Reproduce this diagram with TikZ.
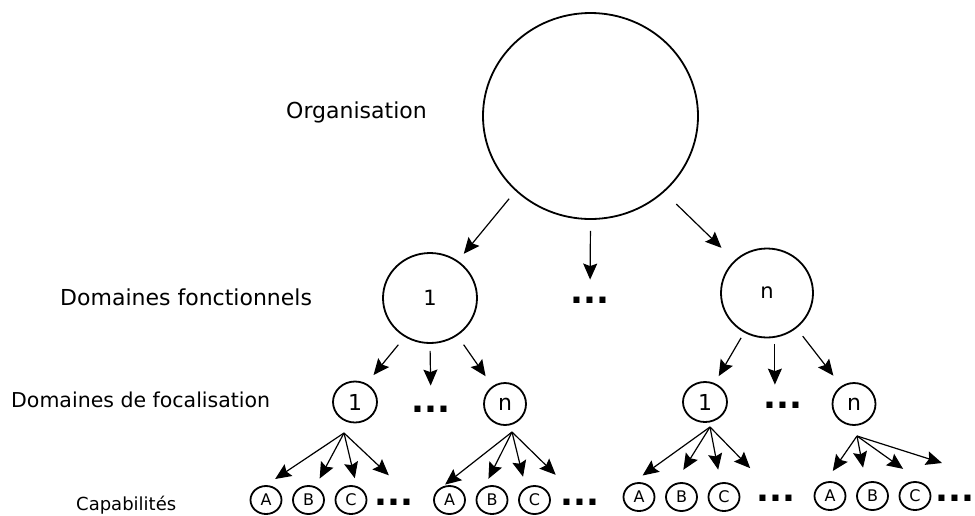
\documentclass[tikz,border=0pt]{standalone}
\usepackage{fontspec}
\setmainfont{DejaVu Sans}
\usetikzlibrary{arrows.meta,shapes.geometric}

\begin{document}
\begin{tikzpicture}[x=1pt, y=-1pt,
        rond/.style={draw, ellipse, line width=1.8pt, inner sep=0pt},
        feuille/.style={rond, minimum width=31pt, minimum height=28pt, font=\fontsize{16}{16}\selectfont},
        points/.style={inner sep=0pt, font=\fontsize{34}{34}\selectfont\bfseries},
        fleche/.style={line width=1.2pt, -{Stealth[length=16pt,width=14pt,inset=2.5pt]}},
        titre/.style={anchor=base west, inner sep=0pt}]
        \useasboundingbox (0,0) rectangle (975,515);
        % niveaux
        \node[titre, font=\fontsize{22}{26}\selectfont] (torg) at (286,118) {Organisation};
        \node[titre, font=\fontsize{22}{26}\selectfont] (tdom) at (60,305) {Domaines fonctionnels};
        \node[titre, font=\fontsize{20.5}{24}\selectfont] (tfoc) at (11,407) {Domaines de focalisation};
        \node[titre, font=\fontsize{18}{22}\selectfont] (tcap) at (76,510) {Capabilités};
        % organisation et domaines
        \node[rond, minimum width=215pt, minimum height=206pt] (org) at (590.5,116) {};
        \node[rond, minimum width=94pt, minimum height=90pt, font=\fontsize{21}{21}\selectfont] (d1) at (430,298) {1};
        \node[rond, minimum width=92pt, minimum height=89pt, font=\fontsize{21}{21}\selectfont] (dn) at (767,293) {n};
        \node[points] (ddots) at (590,300) {...};
        \node[rond, minimum width=44pt, minimum height=41pt, font=\fontsize{22}{22}\selectfont] (f1) at (355,402) {1};
        \node[rond, minimum width=42pt, minimum height=42pt, font=\fontsize{22}{22}\selectfont] (fn) at (505,404) {n};
        \node[points] (fdots1) at (431,409) {...};
        \node[rond, minimum width=44pt, minimum height=40pt, font=\fontsize{22}{22}\selectfont] (g1) at (705,402) {1};
        \node[rond, minimum width=43pt, minimum height=42pt, font=\fontsize{22}{22}\selectfont] (gn) at (854,404) {n};
        \node[points] (fdots2) at (783,405) {...};
        % capabilites
        \foreach \g/\xa/\y/\xp/\yp in {1/266/500/394/502, 2/449.5/500/580/502, 3/639/497/776/498, 4/830/496/955/498} {
            \node[feuille] (a\g) at (\xa,\y) {A};
            \node[feuille] (b\g) at (\xa+42.5,\y) {B};
            \node[feuille] (c\g) at (\xa+85,\y) {C};
            \node[points] (p\g) at (\xp,\yp) {...};
        }
        \draw[fleche, shorten <=10pt, shorten >=9pt] (org.225) -- (d1.53);
        \draw[fleche, shorten <=11pt, shorten >=17pt] (org.south) -- (ddots.north);
        \draw[fleche, shorten <=17pt, shorten >=18pt] (org.314) -- (dn.135);
        \draw[fleche, shorten <=10pt, shorten >=11pt] (d1.237) -- (f1.58);
        \draw[fleche, shorten <=7pt, shorten >=20pt] (d1.south) -- (fdots1.north);
        \draw[fleche, shorten <=11pt, shorten >=12pt] (d1.306) -- (fn.125);
        \draw[fleche, shorten <=6pt, shorten >=8pt] (dn.240) -- (g1.63);
        \draw[fleche, shorten <=6pt, shorten >=17pt] (dn.280) -- (dn.280 |- fdots2.north);
        \draw[fleche, shorten <=10pt, shorten >=13pt] (dn.310) -- (gn.125);
        % eventails
        \coordinate (f1o) at (344,433);
        \coordinate (fno) at (512,432);
        \coordinate (g1o) at (710,427);
        \coordinate (gno) at (857,436);
        \coordinate (gnfin) at (942,463);
        \draw[fleche, shorten >=11pt] (f1o) -- (a1.90);
        \draw[fleche, shorten >=9pt] (f1o) -- (b1.63);
        \draw[fleche, shorten >=8pt] (f1o) -- (c1.68);
        \draw[fleche, shorten >=34pt] (f1o) -- (p1.north east);
        \draw[fleche, shorten >=12pt] (fno) -- (a2.150);
        \draw[fleche, shorten >=9pt] (fno) -- (b2.120);
        \draw[fleche, shorten >=11pt] (fno) -- (c2.125);
        \draw[fleche, shorten >=34pt] (fno) -- (p2.north);
        \draw[fleche, shorten >=18pt] (g1o) -- (a3.135);
        \draw[fleche, shorten >=16pt] (g1o) -- (b3.116);
        \draw[fleche, shorten >=13pt] (g1o) -- (c3.103);
        \draw[fleche, shorten >=37pt] (g1o) -- (p3.north);
        \draw[fleche, shorten >=13pt] (gno) -- (a4.108);
        \draw[fleche, shorten >=15pt] (gno) -- (b4.116);
        \draw[fleche, shorten >=24pt] (gno) -- (c4.60);
        \draw[fleche] (gno) -- (gnfin);
    \end{tikzpicture}
\end{document}
